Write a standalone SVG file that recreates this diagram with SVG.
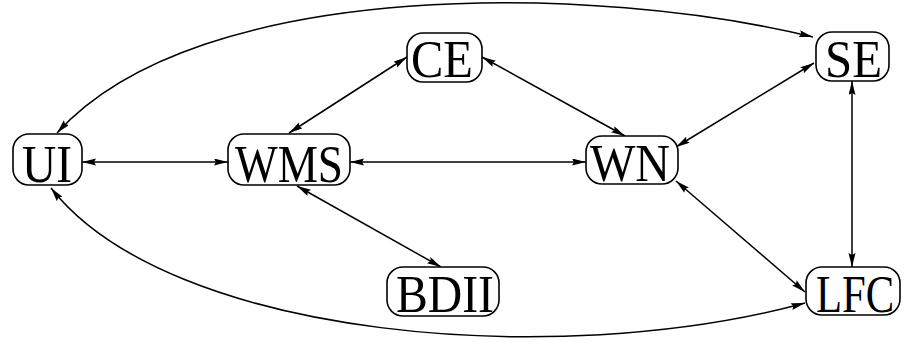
<svg xmlns="http://www.w3.org/2000/svg" width="904" height="343" viewBox="0 0 904 343">
<style>
.box{fill:#fff;stroke:#000;stroke-width:1.6}
.lbl{font-family:"Liberation Serif","DejaVu Serif",serif;font-size:52px;fill:#000}
.edge{fill:none;stroke:#000;stroke-width:1.5;marker-start:url(#ah);marker-end:url(#ah)}
</style>
<defs>
<marker id="ah" markerUnits="userSpaceOnUse" markerWidth="15" markerHeight="8" refX="14" refY="3.5" orient="auto-start-reverse">
<path d="M0,0 L14,3.5 L0,7 L2,3.5 z" fill="#000"/>
</marker>
</defs>
<rect width="904" height="343" fill="#fff"/>
<g id="connectors">
<path class="edge" d="M82,162 L228,162"/>
<path class="edge" d="M350,162 L586,162"/>
<path class="edge" d="M289,133 L407,57"/>
<path class="edge" d="M482,57 L625,136"/>
<path class="edge" d="M676,147 L814,63"/>
<path class="edge" d="M852,81 L852,267"/>
<path class="edge" d="M676,181 L805,292"/>
<path class="edge" d="M297,186 L441,267"/>
<path class="edge" d="M57,133 C200,-25 600,-15 813,37"/>
<path class="edge" d="M51,188 C170,340 560,370 805,303"/>
</g>
<g id="UI"><rect class="box" x="13" y="134" width="69" height="51" rx="16"/><text class="lbl" x="22" y="182" textLength="50" lengthAdjust="spacingAndGlyphs">UI</text></g>
<g id="WMS"><rect class="box" x="228" y="134" width="122" height="51" rx="16"/><text class="lbl" x="235" y="182" textLength="108" lengthAdjust="spacingAndGlyphs">WMS</text></g>
<g id="CE"><rect class="box" x="407" y="33" width="75" height="49" rx="16"/><text class="lbl" x="411" y="77" textLength="62" lengthAdjust="spacingAndGlyphs">CE</text></g>
<g id="WN"><rect class="box" x="586" y="136" width="92" height="48" rx="16"/><text class="lbl" x="590" y="181" textLength="80" lengthAdjust="spacingAndGlyphs">WN</text></g>
<g id="SE"><rect class="box" x="816" y="32" width="73" height="49" rx="16"/><text class="lbl" x="825" y="77" textLength="57" lengthAdjust="spacingAndGlyphs">SE</text></g>
<g id="BDII"><rect class="box" x="387" y="267" width="112" height="49" rx="16"/><text class="lbl" x="396" y="312" textLength="98" lengthAdjust="spacingAndGlyphs">BDII</text></g>
<g id="LFC"><rect class="box" x="806" y="267" width="94" height="48" rx="16"/><text class="lbl" transform="translate(816,312) scale(0.82,1)">LFC</text></g>
</svg>
